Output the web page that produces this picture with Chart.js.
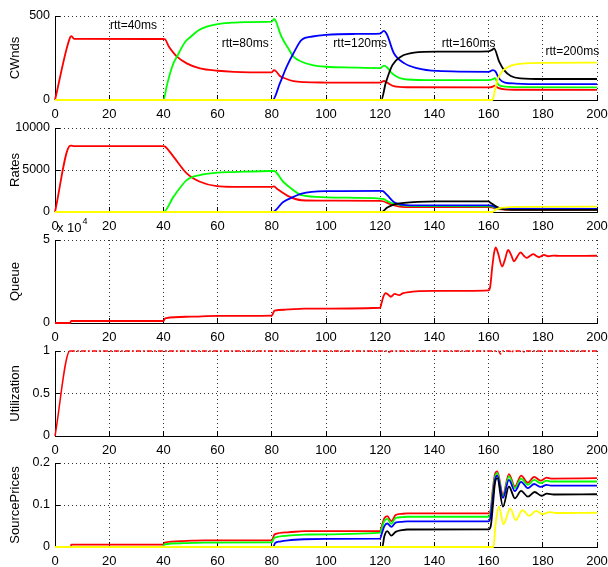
<!DOCTYPE html>
<html>
<head>
<meta charset="utf-8">
<script src="https://cdn.jsdelivr.net/npm/chart.js@4.4.1/dist/chart.umd.min.js"></script>
<style>
  body { margin: 0; background: #fff; width: 608px; height: 567px; overflow: hidden; position: relative; }
  canvas { position: absolute; left: 0; }
</style>
</head>
<body>
<script>
// x axis (time, s)
const xTicks = [0, 20, 40, 60, 80, 100, 120, 140, 160, 180, 200];

// CWnds panel
const cwndRed = [[0,0],[5.5,370],[6.1,380],[7,364],[40,363],[40.6,361],[42,318],[43.5,285],[45,258],[48.6,218],[53.5,188],[60,174],[66,168],[80,165],[80.8,178],[81.5,172],[83,143],[85,128],[88,112],[92,106],[100,104],[120,103],[121.4,113],[122.5,104],[125,82],[130,76],[160,75],[161.6,80],[162.3,86],[163.5,72],[166,63],[170,61],[200,60]];
const cwndGreen = [[0,0],[40,0],[41.2,80],[42.5,160],[43.7,218],[45,258],[48,345],[50,375],[53,415],[56,437],[60,452],[65,460],[70,464],[80,466],[80.8,482],[81.5,470],[83,400],[84.2,357],[86,310],[88,258],[91,228],[95,208],[100,198],[110,193],[120,190],[121.4,205],[122.5,195],[124,165],[126,140],[128,127],[130,122],[140,118],[160,118],[161.6,124],[162.3,130],[163.6,92],[166,80],[170,77],[200,75]];
const cwndBlue = [[0,0],[80.3,0],[83,100],[85.5,198],[88,278],[91,358],[95,378],[100,388],[110,393],[120,395],[121.3,412],[122.5,390],[125,280],[129,218],[133.5,190],[141,173],[160,168],[161.6,178],[162.5,170],[164,125],[166,104],[170,98],[180,95],[200,95]];
const cwndBlack = [[0,0],[120.4,0],[122,99],[124.5,208],[127.6,258],[132.5,282],[141,288],[160,290],[161.4,300],[162,307],[163.9,228],[165.7,178],[168.2,143],[171.8,129],[180,125],[200,125]];
const cwndYellow = [[0,0],[161.4,0],[162.5,70],[163.5,130],[165,170],[167,195],[170,212],[175,220],[200,222]];
const rttText = ['rtt=40ms', 'rtt=80ms', 'rtt=120ms', 'rtt=160ms', 'rtt=200ms'];
const rttX = [20.3, 61.5, 102.7, 142.7, 181];
const rttY = [440, 337, 337, 337, 288];

// Rates panel
const rateRed = [[0,0],[5.5,7880],[6,7900],[7,7850],[40,7850],[40.6,7800],[43.7,6600],[48.6,4600],[53.5,3600],[59.7,3080],[65.8,3000],[80,3000],[80.8,3050],[81.8,2800],[86.7,1800],[91,1400],[100,1350],[120,1320],[121,1280],[124,900],[128,620],[135,580],[160,570],[161,560],[163,380],[166,290],[200,270]];
const rateGreen = [[0,0],[40,0],[43.7,1800],[48.6,3800],[53.5,4400],[59.7,4680],[65.8,4750],[80,4880],[80.8,4880],[84.2,3600],[88,2600],[91,2000],[100,1750],[120,1600],[121,1550],[124,1100],[128,780],[135,700],[160,680],[161,660],[163,450],[166,340],[200,320]];
const rateBlue = [[0,0],[80.3,0],[84.2,1200],[88,1800],[91,2200],[100,2480],[120,2520],[121,2480],[122.6,2000],[125,1200],[127.6,890],[132.5,800],[160,790],[161,760],[163,530],[166,400],[200,380]];
const rateBlack = [[0,0],[120.4,0],[122.6,530],[125,890],[128.8,1080],[133.6,1200],[141,1260],[160,1260],[160.8,1080],[163.2,600],[165.7,320],[170,260],[200,250]];
const rateYellow = [[0,0],[161.4,0],[163,350],[165.7,530],[170.6,620],[200,630]];

// Queue panel (packets)
const queue = [[0,0],[5.5,0],[6,1200],[40,1200],[40.5,2500],[41,3000],[50,3800],[60,4300],[80,4500],[80.5,6000],[81,7500],[85,8000],[92,8600],[120,9200],[120.5,12000],[121.2,16000],[122,18000],[123,17000],[123.9,15800],[125.3,17500],[127,16800],[128.5,18000],[130,18500],[140,19300],[160,19700],[160.6,22000],[161.3,33000],[162,42000],[162.6,45500],[163.5,42000],[165,34000],[166,38000],[167.2,44000],[168.3,41000],[169.4,37200],[170.6,40000],[171.8,42600],[173,40500],[174,39200],[175.3,40500],[176.5,41500],[177.5,40500],[178.6,39600],[179.5,40300],[180.4,41000],[182,40200],[184,40600],[186,40400],[200,40500]];

// Utilization panel
const util = [[0,0],[5.5,1],[122.5,1],[123.2,0.985],[124,1],[163.7,1],[164.4,0.965],[165.2,1],[167.8,1],[168.4,0.98],[169,1],[172.5,1],[173.1,0.988],[173.7,1],[200,1]];

// SourcePrices panel
const priceRed = [[0,0],[5.8,0],[6,0.0058],[40,0.0058],[40.5,0.0105],[47,0.014],[55,0.016],[80,0.016],[80.6,0.024],[81,0.03],[86,0.035],[92,0.0377],[120,0.038],[120.6,0.05],[121.5,0.068],[122.6,0.0736],[124.1,0.0616],[125.7,0.076],[128,0.079],[130,0.08],[160,0.08],[160.8,0.09],[161.6,0.14],[162.3,0.172],[163.2,0.18],[165.3,0.124],[167.5,0.1736],[169.7,0.144],[172,0.17],[174.5,0.153],[176.8,0.167],[179.2,0.158],[181.4,0.165],[183,0.163],[200,0.164]];
const priceGreen = [[0,0],[40,0],[40.3,0.006],[47,0.009],[55,0.0105],[80,0.011],[80.6,0.018],[81,0.022],[86,0.027],[92,0.0297],[120,0.034],[120.6,0.045],[121.5,0.062],[122.6,0.067],[124.1,0.055],[125.7,0.069],[128,0.071],[130,0.072],[160,0.072],[160.8,0.085],[161.6,0.13],[162.3,0.165],[163.2,0.176],[165.3,0.12],[167.5,0.168],[169.7,0.14],[172,0.163],[174.5,0.148],[176.8,0.16],[179.2,0.152],[181.4,0.158],[183,0.156],[200,0.156]];
const priceBlue = [[0,0],[80.5,0],[81.2,0.009],[83,0.013],[86,0.016],[92,0.0185],[100,0.0195],[120,0.02],[120.6,0.032],[121.5,0.049],[122.6,0.056],[124.1,0.048],[125.7,0.058],[128,0.06],[130,0.061],[160,0.061],[160.8,0.075],[161.6,0.12],[162.3,0.158],[163.2,0.17],[165.3,0.117],[167.5,0.16],[169.7,0.133],[172,0.155],[174.5,0.14],[176.8,0.15],[179.2,0.143],[181.4,0.148],[183,0.146],[200,0.146]];
const priceBlack = [[0,0],[120.8,0],[121.5,0.025],[122.6,0.038],[124.1,0.027],[125.7,0.036],[128,0.04],[130,0.0417],[160,0.042],[160.8,0.05],[161.6,0.1],[162.3,0.15],[163.2,0.164],[165.3,0.096],[167.5,0.144],[169.7,0.116],[172,0.1336],[174.5,0.12],[177,0.131],[179.5,0.122],[181.5,0.127],[184,0.125],[200,0.1256]];
const priceYellow = [[0,0],[161.8,0],[162.5,0.05],[163.8,0.096],[165.5,0.054],[168,0.092],[170,0.064],[172.5,0.088],[175,0.074],[177.5,0.086],[180,0.078],[182.5,0.083],[185,0.081],[200,0.0816]];

const FONT = 'Liberation Sans, Arial, Helvetica, sans-serif';
const colors = ['#ff0000', '#00ff00', '#0000ff', '#000000', '#ffff00'];

// text labels inside the CWnds axes
const rttPlugin = {
  id: 'rtt',
  afterDatasetsDraw(chart) {
    const { ctx, scales } = chart;
    ctx.save();
    ctx.font = '12px ' + FONT;
    ctx.fillStyle = '#000';
    ctx.textAlign = 'left';
    ctx.textBaseline = 'middle';
    rttText.forEach((t, i) => {
      ctx.fillText(t, scales.x.getPixelForValue(rttX[i]), scales.y.getPixelForValue(rttY[i]));
    });
    ctx.restore();
  }
};

// "x 10^4" multiplier above the queue axes
const expPlugin = {
  id: 'exp',
  afterDraw(chart) {
    const { ctx, chartArea } = chart;
    ctx.save();
    ctx.fillStyle = '#000';
    ctx.textBaseline = 'middle';
    ctx.font = '13px ' + FONT;
    const x = chartArea.left + 2, y = chartArea.top - 12;
    ctx.fillText('x 10', x, y);
    const w = ctx.measureText('x 10').width;
    ctx.font = '9px ' + FONT;
    ctx.fillText('4', x + w + 1, y - 6);
    ctx.restore();
  }
};

function lines(series) {
  // last series is drawn on top, as in the original plot
  return series.map((d, i) => ({
    data: d,
    borderColor: colors[i],
    borderWidth: 1.8,
    clip: 3,
    order: series.length - i
  }));
}

function panel(areaTop, areaBottom, yMax, yTicks, yFmt, title, datasets, extra) {
  const padTop = 22, xAxisH = 26;
  const canvas = document.createElement('canvas');
  canvas.width = 608;
  canvas.height = (areaBottom - areaTop) + padTop + xAxisH;
  canvas.style.top = (areaTop - padTop) + 'px';
  document.body.appendChild(canvas);

  const grid = {
    color: '#333', lineWidth: 1,
    tickLength: -5, tickColor: '#000', tickWidth: 1, tickBorderDash: []
  };
  const border = { display: true, color: '#000', width: 1, dash: [1, 3] };
  // no automatic room for overhanging tick labels; layout padding decides
  const noPad = s => { s.paddingLeft = s.paddingRight = s.paddingTop = s.paddingBottom = 0; };

  new Chart(canvas, {
    type: 'line',
    data: { datasets },
    options: {
      responsive: false,
      animation: false,
      layout: { padding: { top: padTop, right: 11, left: 0, bottom: 0 } },
      plugins: { legend: { display: false }, tooltip: { enabled: false } },
      elements: { point: { radius: 0 }, line: { cubicInterpolationMode: 'monotone' } },
      scales: {
        x: {
          type: 'linear', min: 0, max: 200,
          afterBuildTicks: s => { s.ticks = xTicks.map(v => ({ value: v })); },
          afterFit: s => { s.height = xAxisH; noPad(s); },
          ticks: { padding: 12, color: '#000', font: { size: 13, family: FONT }, maxRotation: 0, autoSkip: false, callback: v => String(v) },
          grid, border
        },
        y: {
          type: 'linear', min: 0, max: yMax,
          afterBuildTicks: s => { s.ticks = yTicks.map(v => ({ value: v })); },
          afterFit: s => { s.width = 55; noPad(s); },
          ticks: { padding: 10, color: '#000', font: { size: 12.5, family: FONT }, callback: yFmt },
          title: { display: true, text: title, color: '#000', font: { size: 13, family: FONT }, padding: { top: 8 } },
          grid, border
        }
      }
    },
    plugins: extra || []
  });
}

panel(16, 100, 500, [0, 500], v => String(v), 'CWnds',
  lines([cwndRed, cwndGreen, cwndBlue, cwndBlack, cwndYellow]), [rttPlugin]);

panel(128, 212, 10000, [0, 5000, 10000], v => String(v), 'Rates',
  lines([rateRed, rateGreen, rateBlue, rateBlack, rateYellow]));

panel(240, 323, 50000, [0, 50000], v => String(v / 10000), 'Queue',
  lines([queue]), [expPlugin]);

const utilSet = lines([util]);
utilSet[0].borderWidth = 1.5;
utilSet[0].segment = {
  borderDash: c => (c.p0.parsed.y > 0.9 && c.p1.parsed.y > 0.9 ? [5, 2, 2, 2] : undefined)
};
panel(351, 436, 1, [0, 0.5, 1], v => String(v), 'Utilization', utilSet);

panel(463, 547, 0.2, [0, 0.1, 0.2], v => String(v), 'SourcePrices',
  lines([priceRed, priceGreen, priceBlue, priceBlack, priceYellow]));
</script>
</body>
</html>
